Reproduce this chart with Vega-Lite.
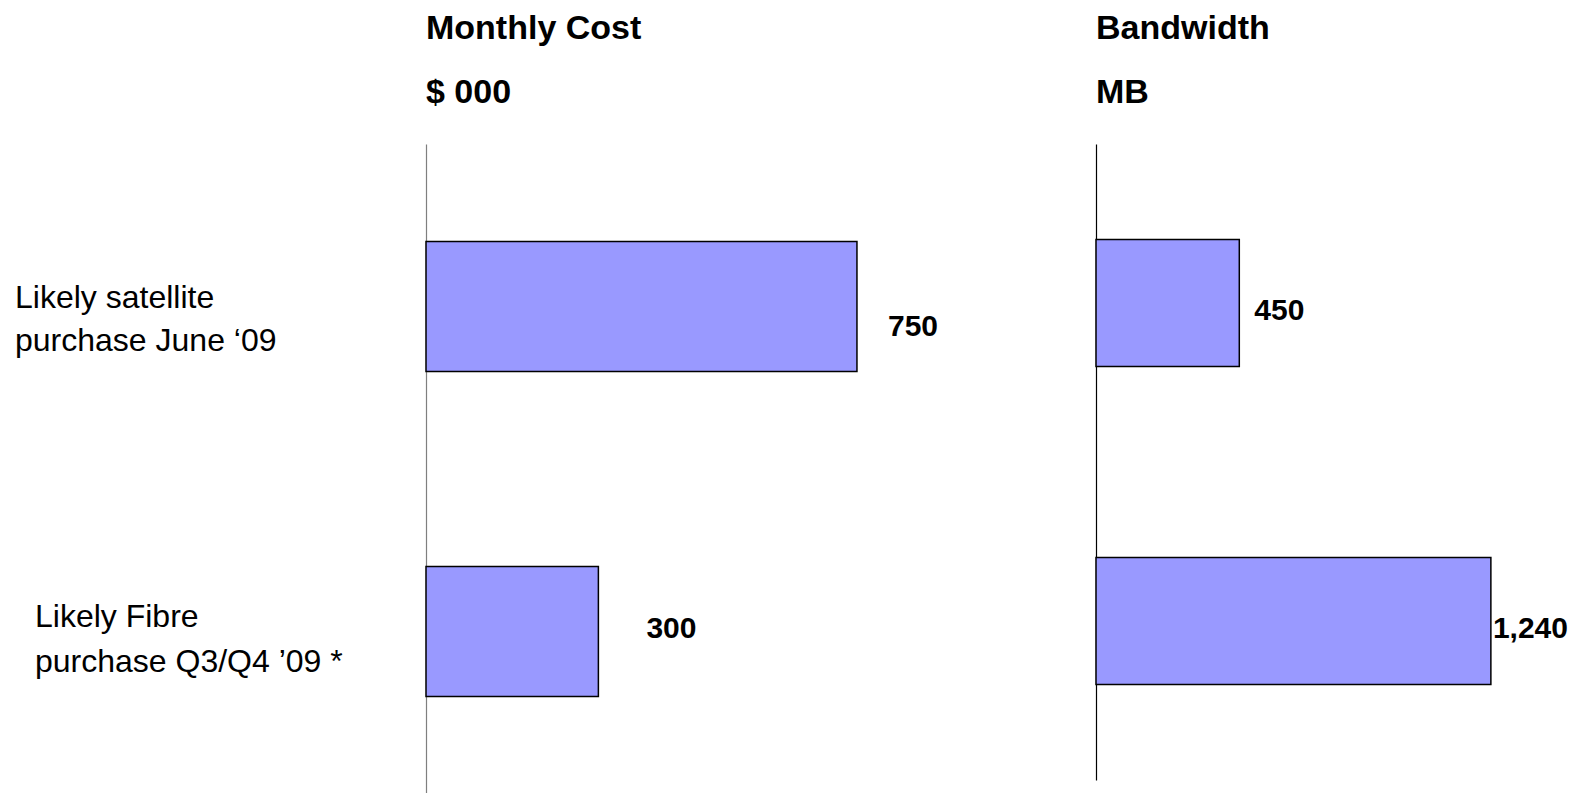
{
  "$schema": "https://vega.github.io/schema/vega-lite/v6.json",
  "padding": {"left": 15, "top": 12, "right": 0, "bottom": 0},
  "background": "white",
  "spacing": 0,
  "bounds": "flush",
  "config": {"view": {"stroke": null}, "font": "Liberation Sans", "concat": {"spacing": 0}},
  "datasets": {
    "cost": [
      {"option": "Likely satellite", "value": 750, "label": ["Likely satellite", "purchase June ‘09"]},
      {"option": "Likely Fibre", "value": 300, "label": ["Likely Fibre", "purchase Q3/Q4 ’09 *"]}
    ],
    "bw": [
      {"option": "Likely satellite", "value": 450},
      {"option": "Likely Fibre", "value": 1240}
    ]
  },
  "hconcat": [
    {
      "width": 670,
      "height": 650,
      "data": {"name": "cost"},
      "title": {"text": "Monthly Cost", "subtitle": "$ 000", "anchor": "start", "frame": "group", "fontSize": 34, "fontWeight": "bold", "color": "black", "subtitleFontSize": 34, "subtitleFontWeight": "bold", "subtitleColor": "black", "subtitleFont": "Liberation Sans", "offset": 34, "subtitlePadding": 30},
      "encoding": {
        "y": {"field": "option", "type": "nominal", "sort": null,
              "scale": {"paddingInner": 0.6, "paddingOuter": 0.3},
              "axis": {"title": null, "labels": false, "ticks": false, "grid": false, "domain": true, "domainColor": "#7f7f7f", "domainWidth": 1.2}}
      },
      "layer": [
        {
          "mark": {"type": "bar", "fill": "#9999FF", "stroke": "black", "strokeWidth": 1.5},
          "encoding": {"x": {"field": "value", "type": "quantitative", "scale": {"domain": [0, 1166], "nice": false, "zero": true}, "axis": null}}
        },
        {
          "transform": [{"filter": "datum.option === 'Likely satellite'"}],
          "mark": {"type": "text", "align": "left", "baseline": "middle", "fontSize": 30, "fontWeight": "bold", "color": "black", "dx": 31, "dy": 20},
          "encoding": {"x": {"field": "value", "type": "quantitative"}, "text": {"field": "value", "type": "quantitative", "format": ",d"}}
        },
        {
          "transform": [{"filter": "datum.option === 'Likely Fibre'"}],
          "mark": {"type": "text", "align": "left", "baseline": "middle", "fontSize": 30, "fontWeight": "bold", "color": "black", "dx": 48, "dy": -3},
          "encoding": {"x": {"field": "value", "type": "quantitative"}, "text": {"field": "value", "type": "quantitative", "format": ",d"}}
        },
        {
          "transform": [{"filter": "datum.option === 'Likely satellite'"}],
          "mark": {"type": "text", "align": "left", "baseline": "alphabetic", "font": "Liberation Sans", "fontSize": 32, "lineHeight": 43, "color": "black", "dx": -411, "dy": 1},
          "encoding": {"x": {"datum": 0, "type": "quantitative"}, "text": {"field": "label"}}
        },
        {
          "transform": [{"filter": "datum.option === 'Likely Fibre'"}],
          "mark": {"type": "text", "align": "left", "baseline": "alphabetic", "font": "Liberation Sans", "fontSize": 32, "lineHeight": 45, "color": "black", "dx": -391, "dy": -5},
          "encoding": {"x": {"datum": 0, "type": "quantitative"}, "text": {"field": "label"}}
        }
      ]
    },
    {
      "width": 485,
      "height": 636,
      "data": {"name": "bw"},
      "title": {"text": "Bandwidth", "subtitle": "MB", "anchor": "start", "frame": "group", "fontSize": 34, "fontWeight": "bold", "color": "black", "subtitleFontSize": 34, "subtitleFontWeight": "bold", "subtitleColor": "black", "subtitleFont": "Liberation Sans", "offset": 34, "subtitlePadding": 30},
      "encoding": {
        "y": {"field": "option", "type": "nominal", "sort": null,
              "scale": {"paddingInner": 0.6, "paddingOuter": 0.3},
              "axis": {"title": null, "labels": false, "ticks": false, "grid": false, "domain": true, "domainColor": "black", "domainWidth": 1.2}}
      },
      "layer": [
        {
          "mark": {"type": "bar", "fill": "#9999FF", "stroke": "black", "strokeWidth": 1.5},
          "encoding": {"x": {"field": "value", "type": "quantitative", "scale": {"domain": [0, 1523], "nice": false, "zero": true}, "axis": null}}
        },
        {
          "transform": [{"filter": "datum.option === 'Likely satellite'"}],
          "mark": {"type": "text", "align": "left", "baseline": "middle", "fontSize": 30, "fontWeight": "bold", "color": "black", "dx": 15, "dy": 8},
          "encoding": {"x": {"field": "value", "type": "quantitative"}, "text": {"field": "value", "type": "quantitative", "format": ",d"}}
        },
        {
          "transform": [{"filter": "datum.option === 'Likely Fibre'"}],
          "mark": {"type": "text", "align": "left", "baseline": "middle", "fontSize": 30, "fontWeight": "bold", "color": "black", "dx": 2, "dy": 8},
          "encoding": {"x": {"field": "value", "type": "quantitative"}, "text": {"field": "value", "type": "quantitative", "format": ",d"}}
        }
      ]
    }
  ]
}
